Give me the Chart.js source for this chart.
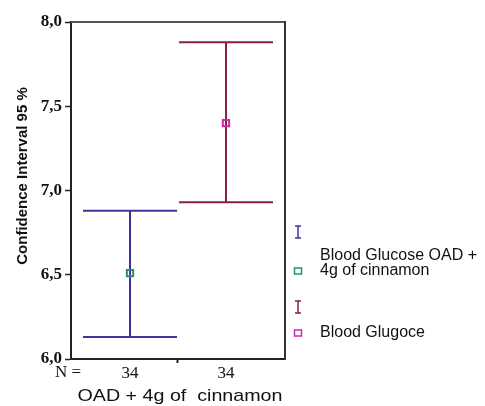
<!DOCTYPE html>
<html>
<head>
<meta charset="utf-8">
<script src="https://cdn.jsdelivr.net/npm/chart.js@4"></script>
<style>
  html, body { margin: 0; padding: 0; background: #fff; }
  #wrap { width: 485px; height: 406px; }
</style>
</head>
<body>
<div id="wrap"><canvas id="ciChart" width="485" height="406"></canvas></div>
<script>
// Data
const categories = ['Blood Glucose OAD +|4g of cinnamon', 'Blood Glugoce'];
const means = [6.51, 7.40];
const lower = [6.13, 6.93];
const upper = [6.88, 7.88];
const nCounts = [34, 34];
const yTicks = [6.0, 6.5, 7.0, 7.5, 8.0];
const xTitle = 'OAD + 4g of  cinnamon';
const yTitle = 'Confidence Interval 95 %';

// Colors
const barColors = ['#45309a', '#8a1f3e'];
const markColors = ['#2a8a7c', '#cf2aa6'];

// --- Error bars, drawn through the scales ---
const errorBars = {
    id: 'errorBars',
    beforeDatasetsDraw(chart) {
        const { ctx, scales: { x, y } } = chart;
        ctx.save();
        ctx.lineWidth = 2;
        means.forEach((m, i) => {
            const cx = x.getPixelForValue(i + 1);
            const x0 = x.getPixelForValue(i + 1 - 0.49);
            const x1 = x.getPixelForValue(i + 1 + 0.49);
            const yl = y.getPixelForValue(lower[i]);
            const yh = y.getPixelForValue(upper[i]);
            ctx.strokeStyle = barColors[i];
            ctx.beginPath();
            ctx.moveTo(cx, yl); ctx.lineTo(cx, yh);
            ctx.moveTo(x0, yl); ctx.lineTo(x1, yl);
            ctx.moveTo(x0, yh); ctx.lineTo(x1, yh);
            ctx.stroke();
        });
        ctx.restore();
    }
};

// --- Frame, titles, N label and legend ---
const extras = {
    id: 'extras',
    afterDraw(chart) {
        const { ctx, chartArea: a } = chart;
        ctx.save();
        // top and right frame lines
        ctx.lineWidth = 2;
        ctx.strokeStyle = '#555';
        ctx.beginPath();
        ctx.moveTo(a.left, a.top); ctx.lineTo(a.right, a.top);
        ctx.stroke();
        ctx.strokeStyle = '#333';
        ctx.beginPath();
        ctx.moveTo(a.right, a.top - 1); ctx.lineTo(a.right, a.bottom + 1);
        ctx.stroke();

        ctx.fillStyle = '#111';
        // y title
        ctx.save();
        ctx.translate(23, 176);
        ctx.rotate(-Math.PI / 2);
        ctx.font = 'bold 15px "Liberation Sans", Arial, sans-serif';
        ctx.textAlign = 'center';
        ctx.textBaseline = 'middle';
        ctx.fillText(yTitle, 0, 0);
        ctx.restore();

        // x title (the source text is a bit stretched sideways)
        ctx.save();
        ctx.font = '17px "Liberation Sans", Arial, sans-serif';
        ctx.textAlign = 'center';
        ctx.textBaseline = 'alphabetic';
        const sx = 205 / ctx.measureText(xTitle).width;
        ctx.translate((a.left + a.right) / 2 + 2, 401);
        ctx.scale(sx, 1);
        ctx.fillText(xTitle, 0, 0);
        ctx.restore();

        // N =
        ctx.font = '17px "Liberation Serif", serif';
        ctx.textAlign = 'left';
        ctx.textBaseline = 'middle';
        ctx.fillText('N =', 55, 373);

        // legend
        const lx = 298;
        const rows = [
            { beam: 232, box: 271, text: 260 },
            { beam: 307, box: 333, text: 337 }
        ];
        ctx.font = '16px "Liberation Sans", Arial, sans-serif';
        ctx.textBaseline = 'alphabetic';
        rows.forEach((r, i) => {
            ctx.strokeStyle = barColors[i];
            ctx.lineWidth = 1.5;
            ctx.beginPath();
            ctx.moveTo(lx, r.beam - 6); ctx.lineTo(lx, r.beam + 6);
            ctx.moveTo(lx - 3, r.beam - 6); ctx.lineTo(lx + 3, r.beam - 6);
            ctx.moveTo(lx - 3, r.beam + 6); ctx.lineTo(lx + 3, r.beam + 6);
            ctx.stroke();
            ctx.strokeStyle = markColors[i];
            ctx.strokeRect(lx - 3.5, r.box - 3, 7, 6);
            ctx.fillStyle = '#111';
            categories[i].split('|').forEach((t, k) => ctx.fillText(t, 320, r.text + k * 15));
        });
        ctx.restore();
    }
};

new Chart(document.getElementById('ciChart'), {
    type: 'scatter',
    data: {
        datasets: means.map((m, i) => ({
            label: categories[i],
            data: [{ x: i + 1, y: m }],
            pointStyle: 'rect',
            pointRadius: 4.5,
            pointHoverRadius: 4.5,
            borderWidth: 2,
            borderColor: markColors[i],
            backgroundColor: 'rgba(0,0,0,0)'
        }))
    },
    options: {
        responsive: false,
        animation: false,
        layout: { padding: { top: 22, right: 200, left: 0, bottom: 0 } },
        plugins: { legend: { display: false }, tooltip: { enabled: false } },
        scales: {
            x: {
                type: 'linear',
                min: 0.385,
                max: 2.615,
                afterBuildTicks: s => { s.ticks = [1, 1.5, 2].map(v => ({ value: v })); },
                afterFit: s => { s.height = 47; },
                ticks: {
                    autoSkip: false,
                    maxRotation: 0,
                    padding: 0,
                    color: '#111',
                    font: { family: '"Liberation Serif", serif', size: 17 },
                    callback: v => (v === 1.5 ? '' : String(nCounts[v - 1]))
                },
                grid: {
                    drawOnChartArea: false,
                    tickLength: 4,
                    tickWidth: 2,
                    tickColor: c => (c.tick && c.tick.value === 1.5 ? '#222' : 'rgba(0,0,0,0)')
                },
                border: { color: '#222', width: 2 }
            },
            y: {
                min: 6,
                max: 8,
                afterBuildTicks: s => { s.ticks = yTicks.map(v => ({ value: v })); },
                afterFit: s => { s.width = 71; },
                ticks: {
                    padding: 3,
                    color: '#111',
                    font: { family: '"Liberation Serif", serif', size: 17, weight: 'bold' },
                    callback: v => v.toFixed(1).replace('.', ',')
                },
                grid: {
                    drawOnChartArea: false,
                    tickLength: 6,
                    tickColor: '#222',
                    tickWidth: 1.5
                },
                border: { color: '#222', width: 2 }
            }
        }
    },
    plugins: [errorBars, extras]
});
</script>
</body>
</html>
